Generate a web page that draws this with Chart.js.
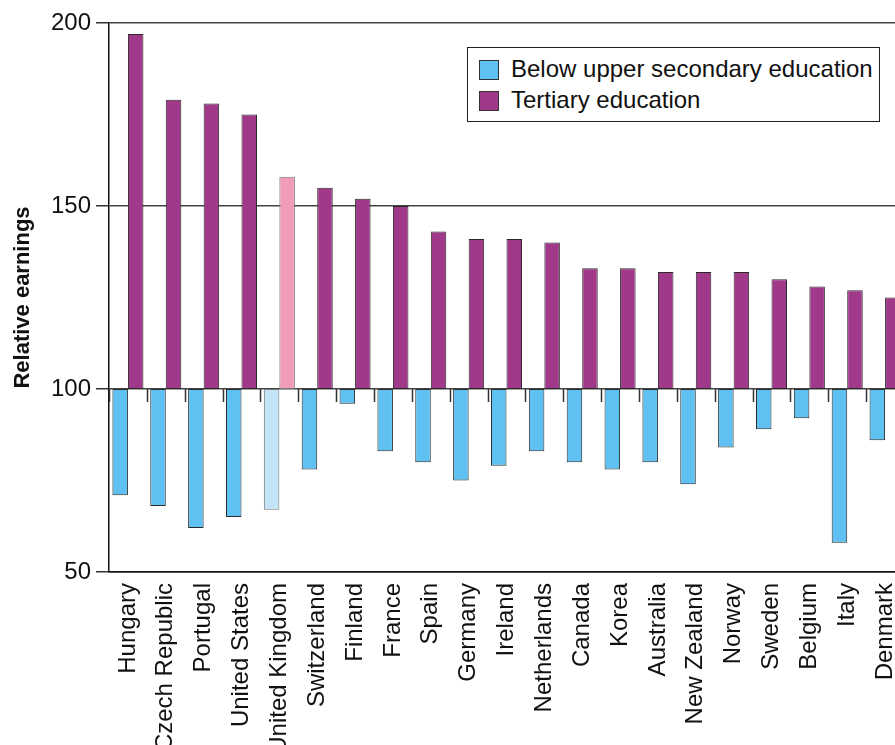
<!DOCTYPE html>
<html>
<head>
<meta charset="utf-8">
<title>Relative earnings by education</title>
<script src="https://cdn.jsdelivr.net/npm/chart.js@4"></script>
<style>
    body { margin: 0; overflow: hidden; background: #fff; }
    #wrap { position: relative; width: 904px; height: 745px; }
    #legend {
        position: absolute; left: 467px; top: 47px; width: 411px; height: 73px;
        border: 1px solid #222; background: #fff;
        font-family: "Liberation Sans", Arial, sans-serif; font-size: 24px; color: #111;
    }
    #legend .row { position: absolute; left: 11px; height: 28px; line-height: 28px; white-space: nowrap; }
    #legend .sw { display: inline-block; width: 18px; height: 18px; border: 1px solid #333; vertical-align: -3px; margin-right: 12px; }
</style>
</head>
<body>
<div id="wrap">
    <canvas id="chart"></canvas>
    <div id="legend"></div>
</div>
<script>
// Chart data
const countries = ['Hungary', 'Czech Republic', 'Portugal', 'United States', 'United Kingdom',
    'Switzerland', 'Finland', 'France', 'Spain', 'Germany', 'Ireland', 'Netherlands',
    'Canada', 'Korea', 'Australia', 'New Zealand', 'Norway', 'Sweden', 'Belgium', 'Italy', 'Denmark'];
const belowUpperSecondary = [71, 68, 62, 65, 67, 78, 96, 83, 80, 75, 79, 83, 80, 78, 80, 74, 84, 89, 92, 58, 86];
const tertiary = [197, 179, 178, 175, 158, 155, 152, 150, 143, 141, 141, 140, 133, 133, 132, 132, 132, 130, 128, 127, 125];
const yTicks = [50, 100, 150, 200];
const baseline = 100;
const highlight = 'United Kingdom';

const seriesNames = ['Below upper secondary education', 'Tertiary education'];
const blue = '#5ec1f1', blueLight = '#c4e5f7';
const purple = '#a0398a', pink = '#f29bba';
const fontFamily = '"Liberation Sans", Arial, sans-serif';

function colorsFor(normal, light) {
    return countries.map(c => c === highlight ? light : normal);
}
const borders = countries.map(c => c === highlight ? '#777' : '#2a2a2a');

// short tick marks hanging under the 100 line between countries
const baselineTicks = {
    id: 'baselineTicks',
    afterDatasetsDraw(chart) {
        const x = chart.scales.x, y = chart.scales.y;
        const yb = y.getPixelForValue(baseline);
        const band = x.width / countries.length;
        const ctx = chart.ctx;
        ctx.save();
        ctx.strokeStyle = '#333';
        ctx.lineWidth = 1.5;
        ctx.beginPath();
        for (let i = 0; i <= countries.length; i++) {
            const px = Math.round(x.left + i * band) + 0.5;
            ctx.moveTo(px, yb);
            ctx.lineTo(px, yb + 13);
        }
        ctx.stroke();
        ctx.restore();
    }
};

new Chart(document.getElementById('chart'), {
    type: 'bar',
    data: {
        labels: countries,
        datasets: [{
            label: seriesNames[0],
            data: belowUpperSecondary.map(v => [v, baseline]),
            backgroundColor: colorsFor(blue, blueLight),
            borderColor: borders,
            borderWidth: 1,
            borderSkipped: false
        }, {
            label: seriesNames[1],
            data: tertiary.map(v => [baseline, v]),
            backgroundColor: colorsFor(purple, pink),
            borderColor: borders,
            borderWidth: 1,
            borderSkipped: false
        }]
    },
    options: {
        responsive: true,
        maintainAspectRatio: false,
        animation: false,
        categoryPercentage: 0.82,
        barPercentage: 1.0,
        layout: { padding: { left: 10, top: 23, right: 0, bottom: 0 } },
        plugins: {
            legend: { display: false },
            tooltip: { enabled: false }
        },
        scales: {
            x: {
                grid: { display: false },
                border: { display: true, color: '#111', width: 1.5 },
                ticks: {
                    minRotation: 90, maxRotation: 90, autoSkip: false, padding: 3,
                    color: '#111', font: { family: fontFamily, size: 24 }
                },
                afterFit(scale) {
                    scale.height = 173;
                    scale.paddingLeft = 0;
                    scale.paddingRight = 0;
                }
            },
            y: {
                min: 50, max: 200,
                afterBuildTicks(scale) { scale.ticks = yTicks.map(v => ({ value: v })); },
                grid: { color: '#444', lineWidth: 1.5, tickLength: 13, tickColor: '#333' },
                border: { display: true, color: '#111', width: 1.5 },
                ticks: { padding: 5, color: '#111', font: { family: fontFamily, size: 24 } },
                title: {
                    display: true, text: 'Relative earnings', color: '#111',
                    padding: { top: 0, bottom: 0 },
                    font: { family: fontFamily, size: 22, weight: 'bold' }
                },
                afterFit(scale) { scale.width = 99; }
            }
        }
    },
    plugins: [baselineTicks]
});

// legend box inside the plot
const legend = document.getElementById('legend');
[[seriesNames[0], blue], [seriesNames[1], purple]].forEach((item, i) => {
    const row = document.createElement('div');
    row.className = 'row';
    row.style.top = (7 + i * 31) + 'px';
    const sw = document.createElement('span');
    sw.className = 'sw';
    sw.style.background = item[1];
    row.appendChild(sw);
    row.appendChild(document.createTextNode(item[0]));
    legend.appendChild(row);
});
</script>
</body>
</html>
